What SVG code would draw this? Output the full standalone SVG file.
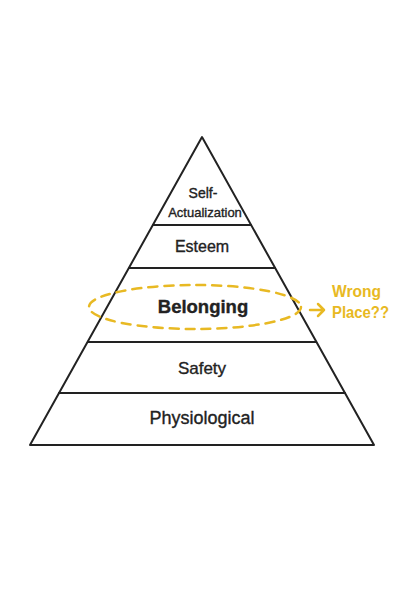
<svg xmlns="http://www.w3.org/2000/svg" width="408" height="612" viewBox="0 0 408 612">
<style>
.ln{stroke:#222;stroke-width:2;fill:none;stroke-linecap:round;stroke-linejoin:round}
.t{font-family:"Liberation Sans",Arial,sans-serif;fill:#222;text-anchor:middle;stroke:#222;stroke-width:0.35}
.y{stroke:#E8B923;fill:none;stroke-width:2.5;stroke-linecap:round}
.yt{font-family:"Liberation Sans",Arial,sans-serif;fill:#E8B923;font-weight:bold;font-size:16px}
</style>
<rect width="408" height="612" fill="#fff"/>
<g id="pyramid">
<polygon class="ln" points="202,137 374,445 30,445"/>
</g>
<g id="connectors">
<line class="ln" x1="153" y1="225" x2="251" y2="225"/>
<line class="ln" x1="129" y1="268" x2="275" y2="268"/>
<line class="ln" x1="88" y1="342" x2="316" y2="342"/>
<line class="ln" x1="59" y1="393" x2="345" y2="393"/>
<path class="y" d="M310,310 H324 M318,304 L324,310 L318,316" stroke-linejoin="round"/>
</g>
<g id="self-actualization">
<text class="t" x="203" y="198" font-size="14">Self-</text>
<text class="t" x="205" y="217" font-size="13">Actualization</text>
</g>
<g id="esteem"><text class="t" x="202" y="252" font-size="16">Esteem</text></g>
<g id="belonging">
<ellipse class="y" cx="195" cy="307" rx="106" ry="22" stroke-dasharray="9,7"/>
<text class="t" x="203" y="313" font-size="18.5" font-weight="bold" stroke-width="0">Belonging</text>
</g>
<g id="safety"><text class="t" x="202" y="374" font-size="17">Safety</text></g>
<g id="physiological"><text class="t" x="202" y="424" font-size="18">Physiological</text></g>
<g id="note">
<text class="yt" x="332" y="297" textLength="49" lengthAdjust="spacingAndGlyphs">Wrong</text>
<text class="yt" x="332" y="318" textLength="57" lengthAdjust="spacingAndGlyphs">Place??</text>
</g>
</svg>
